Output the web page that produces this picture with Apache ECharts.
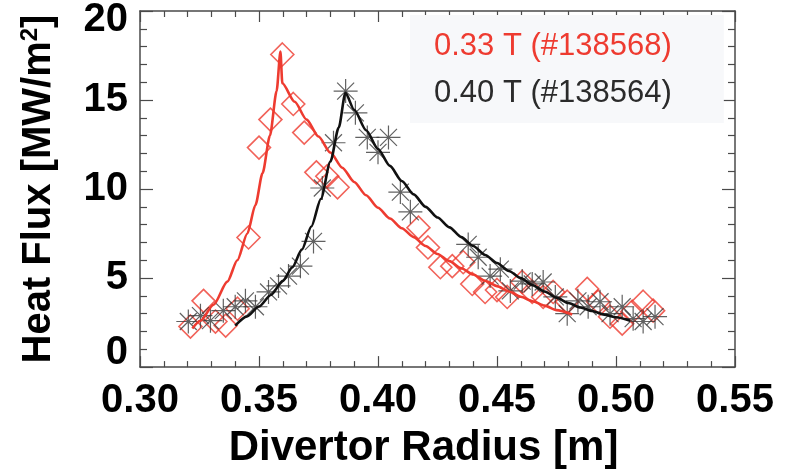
<!DOCTYPE html>
<html>
<head>
  <meta charset="utf-8">
  <title>Heat Flux vs Divertor Radius</title>
  <style>
    body { margin: 0; background: #ffffff; }
    #chart { width: 786px; height: 475px; }
  </style>
</head>
<body>
  <div id="chart"></div>
  <script src="https://cdn.jsdelivr.net/npm/echarts@6/dist/echarts.min.js"></script>
  <script>
    // measured points, [radius (m), heat flux (MW/m2)]
    var shot138568 = [
      [0.3212, 2.28], [0.3267, 3.72], [0.3317, 2.56], [0.336, 2.33], [0.341, 3.28],
      [0.3456, 7.28], [0.350, 12.33], [0.3548, 13.9], [0.3598, 17.56], [0.3644, 14.78],
      [0.369, 13.17], [0.3741, 10.94], [0.3787, 10.72], [0.383, 10.1], [0.417, 7.83],
      [0.421, 6.72], [0.4262, 5.61], [0.4312, 5.67], [0.4358, 5.89], [0.4396, 4.67],
      [0.445, 4.22], [0.450, 4.33], [0.4543, 3.94], [0.4606, 4.78], [0.4648, 4.22],
      [0.4694, 3.94], [0.4736, 4.22], [0.4795, 3.67], [0.4879, 4.39], [0.4925, 3.67],
      [0.4975, 2.83], [0.5026, 2.44], [0.5068, 3.11], [0.5114, 3.67], [0.5156, 3.17]
    ];
    var shot138564 = [
      [0.3203, 2.56], [0.3254, 2.89], [0.3296, 2.61], [0.335, 3.17], [0.340, 3.39],
      [0.3443, 3.72], [0.3485, 3.39], [0.354, 4.22], [0.3582, 4.56], [0.3624, 5.11],
      [0.3674, 5.67], [0.3729, 7.06], [0.3766, 10.06], [0.3813, 12.6], [0.3864, 15.5],
      [0.3905, 14.28], [0.3955, 12.9], [0.400, 12.06], [0.4044, 12.9], [0.4094, 9.83],
      [0.4136, 8.72], [0.4379, 6.89], [0.4421, 6.17], [0.4471, 5.11], [0.4514, 5.5],
      [0.4556, 4.28], [0.4606, 4.83], [0.4648, 4.67], [0.4694, 4.78], [0.4745, 3.94],
      [0.4795, 3.0], [0.484, 3.72], [0.4883, 3.39], [0.4933, 3.67], [0.4975, 3.0],
      [0.5026, 3.39], [0.5072, 2.72], [0.5114, 2.56], [0.5164, 2.83]
    ];
    // fitted profiles
    var fit138568 = [
      [0.322, 2.17], [0.3254, 2.6], [0.3309, 3.5], [0.3367, 4.8], [0.3409, 6.0],
      [0.3451, 7.5], [0.3485, 9.1], [0.3515, 10.9], [0.3546, 13.0], [0.3574, 15.5],
      [0.359, 17.72], [0.3598, 15.94], [0.365, 14.9], [0.370, 13.9], [0.375, 12.95],
      [0.380, 12.05], [0.385, 11.2], [0.390, 10.4], [0.395, 9.65], [0.400, 8.95],
      [0.405, 8.35], [0.410, 7.8], [0.415, 7.3], [0.420, 6.8], [0.425, 6.35],
      [0.430, 5.95], [0.435, 5.55], [0.440, 5.2], [0.445, 4.85], [0.450, 4.55],
      [0.455, 4.25], [0.460, 3.95], [0.465, 3.7], [0.470, 3.45], [0.475, 3.2],
      [0.4816, 2.95]
    ];
    var fit138564 = [
      [0.340, 2.33], [0.345, 2.85], [0.350, 3.4], [0.355, 4.05], [0.360, 4.85],
      [0.364, 5.6], [0.368, 6.6], [0.372, 7.9], [0.376, 9.45], [0.380, 11.55],
      [0.3835, 13.45], [0.3863, 15.4], [0.390, 14.45], [0.395, 13.3], [0.400, 12.25],
      [0.405, 11.3], [0.410, 10.45], [0.415, 9.7], [0.420, 9.0], [0.425, 8.4],
      [0.430, 7.85], [0.435, 7.3], [0.440, 6.8], [0.445, 6.3], [0.450, 5.85],
      [0.455, 5.4], [0.460, 5.0], [0.465, 4.6], [0.470, 4.25], [0.475, 3.9],
      [0.480, 3.6], [0.485, 3.35], [0.490, 3.15], [0.495, 2.95], [0.500, 2.8],
      [0.506, 2.6]
    ];
    var legendNames = ['0.33 T (#138568)', '0.40 T (#138564)'];
    var yTickValues = [0, 5, 10, 15, 20];

    var RED = '#ee3b30';
    var AXIS = '#4a4a4a';
    var FONT = 'Liberation Sans, Arial, sans-serif';
    var starPath = 'path://M-10,0L10,0M0,-10L0,10M-7.07,-7.07L7.07,7.07M-7.07,7.07L7.07,-7.07';

    var tickFont = { fontFamily: FONT, fontWeight: 'bold', fontSize: 40, color: '#000' };

    function xAxisCfg(pos, showLabel) {
      return {
        type: 'value', position: pos, min: 0.30, max: 0.55, interval: 0.05,
        axisLine: { show: true, onZero: false, lineStyle: { color: AXIS, width: 1.5 } },
        axisTick: { show: true, inside: true, length: 11, lineStyle: { color: AXIS, width: 1.2 } },
        minorTick: { show: true, splitNumber: 5, length: 6, lineStyle: { color: AXIS, width: 1.2 } },
        splitLine: { show: false },
        axisLabel: Object.assign({ show: showLabel, margin: 14, formatter: function (v) { return v.toFixed(2); } }, tickFont)
      };
    }
    function yAxisCfg(pos, showLabel) {
      return {
        type: 'value', position: pos, min: 0, max: 20, interval: 5,
        axisLine: { show: true, onZero: false, lineStyle: { color: AXIS, width: 1.5 } },
        axisTick: { show: true, inside: true, length: 13, lineStyle: { color: AXIS, width: 1.2 } },
        minorTick: { show: true, splitNumber: 5, length: 7, lineStyle: { color: AXIS, width: 1.2 } },
        splitLine: { show: false },
        axisLabel: Object.assign({
          show: showLabel, margin: 12,
          customValues: yTickValues,
          formatter: function (v) {
            if (v === 0) return '{lo|0}';
            if (v === 20) return '{hi|20}';
            return String(v);
          },
          rich: {
            lo: Object.assign({ padding: [0, 0, 28, 0] }, tickFont),
            hi: Object.assign({ padding: [18, 0, 0, 0] }, tickFont)
          }
        }, tickFont)
      };
    }

    var xBottom = xAxisCfg('bottom', true);
    xBottom.name = 'Divertor Radius [m]';
    xBottom.nameLocation = 'middle';
    xBottom.nameGap = 56;
    xBottom.nameTextStyle = { fontFamily: FONT, fontWeight: 'bold', fontSize: 42, lineHeight: 44, color: '#000', padding: [0, 28, 0, 0] };

    var yLeft = yAxisCfg('left', true);
    yLeft.name = 'Heat Flux [MW/m{sup|2}]';
    yLeft.nameLocation = 'middle';
    yLeft.nameGap = 80;
    yLeft.nameTextStyle = {
      fontFamily: FONT, fontWeight: 'bold', fontSize: 40, lineHeight: 42, color: '#000',
      rich: { sup: { fontFamily: FONT, fontWeight: 'bold', fontSize: 24, verticalAlign: 'top', padding: [0, 0, 14, 0], color: '#000' } }
    };

    var chart = echarts.init(document.getElementById('chart'));
    chart.setOption({
      animation: false,
      backgroundColor: '#ffffff',
      grid: { left: 140, right: 51, top: 8, bottom: 106 },
      legend: {
        data: [
          { name: legendNames[0], textStyle: { color: RED } },
          { name: legendNames[1], textStyle: { color: '#2b2b2b' } }
        ],
        orient: 'vertical', left: 410, top: 15,
        backgroundColor: '#f7f8fa',
        padding: [13, 52, 12, 17],
        itemGap: 11, itemWidth: 1, itemHeight: 1,
        itemStyle: { opacity: 0 },
        selectedMode: false,
        textStyle: { fontFamily: FONT, fontSize: 31, lineHeight: 36 }
      },
      xAxis: [xBottom, xAxisCfg('top', false)],
      yAxis: [yLeft, yAxisCfg('right', false)],
      series: [
        {
          name: legendNames[0], type: 'scatter', data: shot138568,
          symbol: 'diamond', symbolSize: 23,
          itemStyle: { color: 'rgba(0,0,0,0)', borderColor: RED, borderWidth: 1.6 }, z: 2
        },
        {
          name: legendNames[1], type: 'scatter', data: shot138564,
          symbol: starPath, symbolSize: 24,
          itemStyle: { color: 'rgba(0,0,0,0)', borderColor: '#3a3a3a', borderWidth: 1.2 }, z: 2
        },
        {
          name: 'fit 138568', type: 'line', data: fit138568, showSymbol: false,
          smooth: 0.25, smoothMonotone: 'x',
          lineStyle: { color: RED, width: 2.6 }, z: 3
        },
        {
          name: 'fit 138564', type: 'line', data: fit138564, showSymbol: false,
          smooth: 0.25, smoothMonotone: 'x',
          lineStyle: { color: '#111', width: 2.6 }, z: 3
        }
      ]
    });
  </script>
</body>
</html>
